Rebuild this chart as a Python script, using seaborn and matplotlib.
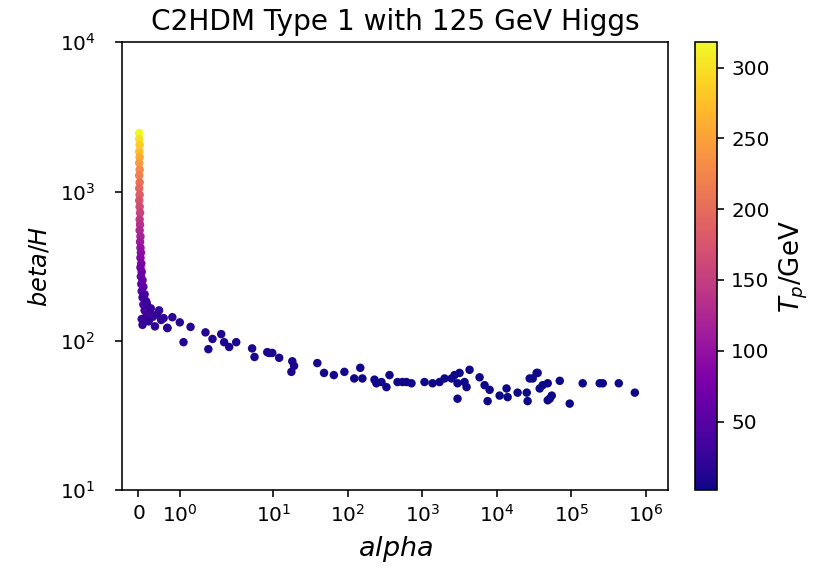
import numpy as np
import pandas as pd
import matplotlib
import matplotlib.pyplot as plt
import seaborn as sns
from matplotlib.ticker import NullLocator

# column of points close to alpha = 0 (hot, high beta/H)
alpha_col = [0.02, 0.02, 0.03, 0.02, 0.03, 0.02, 0.03, 0.02, 0.03, 0.02,
             0.03, 0.02, 0.03, 0.04, 0.03, 0.04, 0.03, 0.05, 0.04, 0.05,
             0.06, 0.05, 0.07, 0.05, 0.08, 0.06, 0.10, 0.07, 0.12, 0.08,
             0.15, 0.10, 0.18, 0.12, 0.22, 0.15, 0.28, 0.20, 0.35, 0.08]
beta_col = [2460, 2250, 2050, 1850, 1700, 1550, 1400, 1280, 1150, 1050,
            950, 870, 790, 720, 650, 600, 550, 500, 460, 420,
            390, 360, 330, 310, 290, 270, 255, 240, 230, 215,
            205, 195, 185, 175, 170, 160, 155, 150, 145, 140]
tp_col = [318, 300, 285, 275, 255, 245, 230, 220, 205, 195,
          185, 175, 165, 155, 145, 135, 125, 118, 110, 100,
          95, 88, 80, 75, 70, 66, 62, 58, 55, 52,
          48, 46, 43, 40, 38, 36, 34, 32, 30, 28]

# spread of points just above alpha = 0
alpha_low = [0.12, 0.20, 0.30, 0.45, 0.55, 0.61, 0.70, 0.82, 0.10, 0.25,
             0.40, 0.50, 1.00, 1.09, 1.26, 0.70, 1.62, 1.69, 1.79, 2.00,
             2.19, 2.56, 3.18]
beta_low = [200, 180, 165, 150, 138, 142, 122, 144, 128, 135,
            125, 160, 133, 98, 124, 122, 114, 88, 103, 111,
            98, 91, 98]
tp_low = [30, 27, 25, 22, 20, 19, 17, 18, 24, 21,
          18, 23, 15, 12, 14, 16, 12, 10, 11, 11,
          10, 9, 9]

# long tail towards large alpha
alpha_tail = [5.2, 5.6, 8.3, 8.8, 9.7, 12, 17.5, 18, 19, 39,
              48, 65, 90, 122, 147, 157, 228, 242, 283, 330,
              363, 465, 542, 614, 716, 1070, 1372, 1703, 1987, 2467,
              2709, 2970, 3160, 3690, 3927, 4306, 2970, 5870, 6850, 7520,
              8000, 10900, 13500, 13960, 19000, 25200, 25900, 27600, 30300, 34200,
              35300, 37600, 41300, 48200, 51300, 54600, 48200, 69900, 95100, 142000,
              240000, 264000, 433000, 711000]
beta_tail = [89, 78, 84, 83, 83, 77, 62, 73, 68, 71,
             61, 59, 62, 56, 66, 56, 55, 52, 53, 49,
             59, 53, 53, 53, 52, 53, 52, 53, 56, 56,
             59, 52, 61, 53, 49, 64, 41, 57, 50.5, 39.5,
             47, 43, 48, 42, 45, 45, 39.5, 56, 56, 61,
             61, 48, 50.5, 52, 41, 43, 40, 54, 38, 52,
             52, 52, 52, 45]
tp_tail = [9, 9, 8, 8, 8, 7, 7, 7, 7, 6,
           6, 6, 6, 5, 5, 5, 5, 5, 5, 4,
           4, 4, 4, 4, 4, 4, 3, 3, 3, 3,
           3, 3, 3, 3, 3, 3, 3, 3, 3, 3,
           3, 2.5, 2.5, 2.5, 2.5, 2.5, 2.5, 2.5, 2.5, 2,
           2, 2, 2, 2, 2, 2, 2, 2, 2, 1.5,
           1.5, 1.5, 1.5, 1.5]

df = pd.DataFrame({
    'alpha': alpha_col + alpha_low + alpha_tail,
    'beta': beta_col + beta_low + beta_tail,
    'Tp': tp_col + tp_low + tp_tail,
})

vmin, vmax = df['Tp'].min(), df['Tp'].max()

fig = plt.figure(figsize=(815 / 144, 570 / 144), dpi=144)
ax = fig.add_axes([0.150, 0.140, 0.670, 0.786])
cax = fig.add_axes([0.853, 0.140, 0.027, 0.786])

sns.scatterplot(data=df, x='alpha', y='beta', hue='Tp', palette='plasma',
                hue_norm=(vmin, vmax), s=18, linewidth=0, legend=False, ax=ax)

ax.set_xscale('symlog')
ax.set_yscale('log')
ax.set_xlim(-0.39, 2.0e6)
ax.set_ylim(10, 1e4)
ax.xaxis.set_minor_locator(NullLocator())
ax.yaxis.set_minor_locator(NullLocator())
ax.tick_params(labelsize=10)
ax.tick_params(axis='y', pad=10)

ax.set_title('C2HDM Type 1 with 125 GeV Higgs', fontsize=14)
ax.set_xlabel('$alpha$', fontsize=13.5)
ax.set_ylabel('$beta/H$', fontsize=12, labelpad=4)

sm = matplotlib.cm.ScalarMappable(cmap='plasma',
                                  norm=matplotlib.colors.Normalize(vmin, vmax))
cbar = fig.colorbar(sm, cax=cax)
cbar.set_ticks([50, 100, 150, 200, 250, 300])
cbar.ax.tick_params(labelsize=10)
cbar.set_label('$T_p$/GeV', fontsize=13)

fig.savefig('out.png', dpi=144)
